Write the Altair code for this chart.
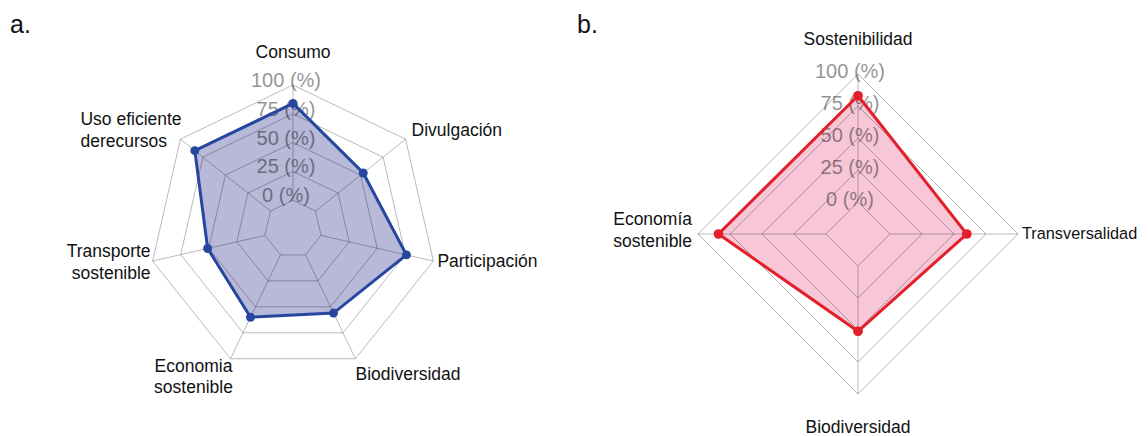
import altair as alt
import pandas as pd

# ---------------- data ----------------
cats_a = ["Consumo", "Divulgación", "Participación", "Biodiversidad",
          "Economia sostenible", "Transporte sostenible", "Uso eficiente derecursos"]
vals_a = [84, 53, 76, 56, 60, 51, 84]
lines_a = [["Consumo"], ["Divulgación"], ["Participación"], ["Biodiversidad"],
           ["Economia", "sostenible"], ["Transporte", "sostenible"],
           ["Uso eficiente", "derecursos"]]

cats_b = ["Sostenibilidad", "Transversalidad", "Biodiversidad", "Economía sostenible"]
vals_b = [83, 60, 51, 84]
lines_b = [["Sostenibilidad"], ["Transversalidad"], ["Biodiversidad"], ["Economía", "sostenible"]]

ring_values = [0, 25, 50, 75, 100]
ring_texts = ["0 (%)", "25 (%)", "50 (%)", "75 (%)", "100 (%)"]
scale_min, scale_max = -25, 100
panel_letters = ["a.", "b."]

# ---------------- styles / layout ----------------
FONT = "Liberation Sans"
LINE_H = 21.5
W, H = 1132, 428

# label style: (align, dx, dy of first line, font size)
style_a = dict(center=(285, 221), radius=144,
               line="#27479f", fill="#7d7db8", fill_op=0.55, point=80,
               ring_dx=-7, ring_dy=-4, letter_x=2,
               labels=[("center", 0, -32, 17.5), ("left", 6, -8, 17.5), ("left", 4, 1, 17.5),
                       ("left", 0, 16, 17.5), ("center", -37, 8, 17.5), ("right", -2, -9, 17.5),
                       ("left", -100, -19, 17.5)])
style_b = dict(center=(850, 226), radius=160,
               line="#e3202a", fill="#e8568a", fill_op=0.33, point=95,
               ring_dx=-8, ring_dy=-2, letter_x=569,
               labels=[("center", 0, -34, 17.5), ("left", 4, 0, 16.3), ("center", 0, 34, 17.5),
                       ("right", -6, -14, 17.5)])


def radar(cats, vals, lines, letter, st):
    n = len(cats)
    R = st["radius"]
    cx, cy = st["center"]
    xdom = [-cx / R, (W - cx) / R]
    ydom = [(cy - H) / R, cy / R]
    xenc = alt.X("x:Q", scale=alt.Scale(domain=xdom, nice=False, zero=False), axis=None)
    yenc = alt.Y("y:Q", scale=alt.Scale(domain=ydom, nice=False, zero=False), axis=None)

    def polar(df):
        return (alt.Chart(df)
                .transform_calculate(ang=f"2*PI*datum.idx/{n}")
                .transform_calculate(r=f"(datum.value - ({scale_min}))/({scale_max} - ({scale_min}))")
                .transform_calculate(x="datum.r*sin(datum.ang)")
                .transform_calculate(y="datum.r*cos(datum.ang)"))

    grid_df = pd.DataFrame([{"ring": v, "idx": i, "value": v}
                            for v in ring_values for i in range(n + 1)])
    spoke_df = pd.DataFrame([{"idx": i, "value": v}
                             for i in range(n) for v in (ring_values[0], ring_values[-1])])
    d = pd.DataFrame({"cat": cats + [cats[0]], "value": vals + [vals[0]],
                      "idx": list(range(n)) + [n]})
    pts_df = pd.DataFrame({"cat": cats, "value": vals, "idx": list(range(n))})
    rl_df = pd.DataFrame({"value": ring_values, "label": ring_texts, "idx": [0] * len(ring_values)})

    fill = polar(d).mark_line(fill=st["fill"], fillOpacity=st["fill_op"], strokeOpacity=0).encode(
        x=xenc, y=yenc, order="idx:Q")
    grid = polar(grid_df).mark_line(color="black", strokeOpacity=0.27, strokeWidth=1).encode(
        x=xenc, y=yenc, detail="ring:N", order="idx:Q")
    spokes = polar(spoke_df).mark_line(color="black", strokeOpacity=0.27, strokeWidth=1).encode(
        x=xenc, y=yenc, detail="idx:N", order="value:Q")
    ring_lbl = polar(rl_df).mark_text(fontSize=20, color="black", opacity=0.42, align="center",
                                      baseline="middle", dx=st["ring_dx"], dy=st["ring_dy"]).encode(
        x=xenc, y=yenc, text="label:N")
    outline = polar(d).mark_line(color=st["line"], strokeWidth=3).encode(
        x=xenc, y=yenc, order="idx:Q")
    pts = polar(pts_df).mark_circle(size=st["point"], color=st["line"], opacity=1).encode(
        x=xenc, y=yenc)

    layers = [fill, grid, spokes, ring_lbl, outline, pts]
    for i, (ls, (al, dx, dy0, fs)) in enumerate(zip(lines, st["labels"])):
        for j, txt in enumerate(ls):
            ldf = pd.DataFrame({"idx": [i], "value": [scale_max], "text": [txt]})
            layers.append(polar(ldf).mark_text(fontSize=fs, color="#111111", align=al,
                                               baseline="middle", dx=dx, dy=dy0 + j * LINE_H).encode(
                x=xenc, y=yenc, text="text:N"))
    letter_layer = alt.Chart(pd.DataFrame({"t": [letter]})).mark_text(
        fontSize=25, align="left", baseline="alphabetic", color="#111111").encode(
        x=alt.value(st["letter_x"]), y=alt.value(25), text="t:N")
    layers.append(letter_layer)
    return alt.layer(*layers)


panel_a = radar(cats_a, vals_a, lines_a, panel_letters[0], style_a)
panel_b = radar(cats_b, vals_b, lines_b, panel_letters[1], style_b)

chart = (alt.layer(panel_a, panel_b)
         .resolve_scale(x="independent", y="independent")
         .properties(width=W, height=H, padding=0, background="white",
                     autosize=alt.AutoSizeParams(type="none"))
         .configure(font=FONT)
         .configure_view(stroke=None, strokeWidth=0))

chart.save("out.html", embed_options={"renderer": "svg", "actions": False})
